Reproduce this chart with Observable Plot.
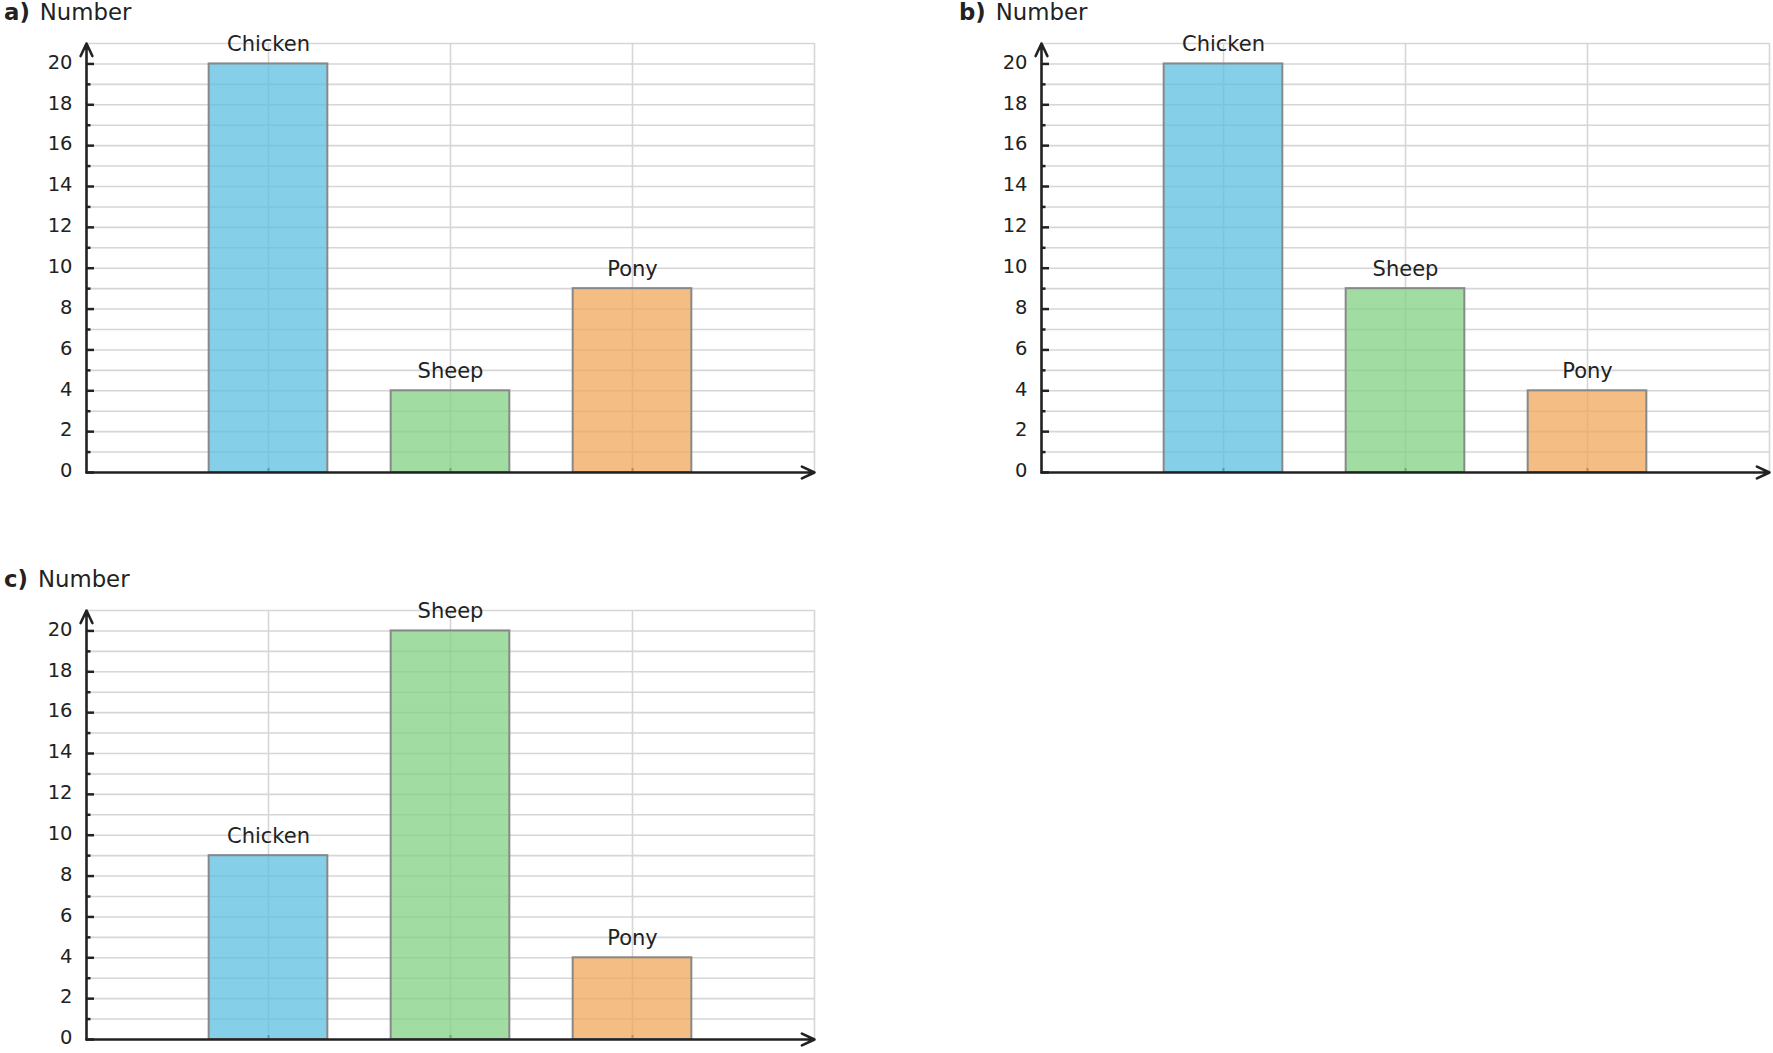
<!DOCTYPE html>
<html>
<head>
<meta charset="utf-8">
<script src="https://cdn.jsdelivr.net/npm/d3@7"></script>
<script src="https://cdn.jsdelivr.net/npm/@observablehq/plot@0.6"></script>
<style>
  html, body { margin: 0; padding: 0; background: #fff; overflow: hidden; }
  #root { position: relative; width: 1773px; height: 1053px; font-family: "DejaVu Sans", sans-serif; color: #222; }
  .panel { position: absolute; }
  .title { position: absolute; left: 4px; top: 1px; font-size: 22.8px; line-height: 22px; white-space: nowrap; z-index: 2; }
  .title b { margin-right: 10px; }
  .panel svg { display: block; }
</style>
</head>
<body>
<div id="root"></div>
<script>
// ---- data ----
const categories = ["Chicken", "Sheep", "Pony"];
const valuesA = [20, 4, 9];
const valuesB = [20, 9, 4];
const valuesC = [9, 20, 4];
const panelLetters = ["a)", "b)", "c)"];
const yTitle = "Number";
const yTicksMajor = [0, 2, 4, 6, 8, 10, 12, 14, 16, 18, 20];
const yTicksMinor = [1, 3, 5, 7, 9, 11, 13, 15, 17, 19];
const yGrid = [1, 2, 3, 4, 5, 6, 7, 8, 9, 10, 11, 12, 13, 14, 15, 16, 17, 18, 19, 20, 21];
const yMax = 21;
const xMax = 4;
const barColors = ["#5CBFE0", "#82D084", "#EFA75A"];

// ---- layout (styles) ----
const W = 818, H = 482, ML = 86, MR = 4, MT = 43, MB = 10;
const plotW = W - ML - MR, plotH = H - MT - MB;
const halfBar = 0.326;
const panels = [
  {values: valuesA, left: 0, top: 0},
  {values: valuesB, left: 955, top: 0},
  {values: valuesC, left: 0, top: 567}
];

const root = document.getElementById("root");

panels.forEach((p, i) => {
  const data = categories.map((c, j) => ({cat: c, pos: j + 1, value: p.values[j], color: barColors[j]}));
  const div = document.createElement("div");
  div.className = "panel";
  div.style.left = p.left + "px";
  div.style.top = p.top + "px";
  const title = document.createElement("div");
  title.className = "title";
  title.innerHTML = `<b>${panelLetters[i]}</b>${yTitle}`;
  div.appendChild(title);

  const chart = Plot.plot({
    width: W,
    height: H,
    marginLeft: ML,
    marginRight: MR,
    marginTop: MT,
    marginBottom: MB,
    style: {fontFamily: "DejaVu Sans", background: "white", overflow: "visible", color: "#222"},
    x: {type: "linear", domain: [0, xMax], axis: null},
    y: {type: "linear", domain: [0, yMax]},
    marks: [
      // grid
      Plot.ruleY(yGrid, {y: d => d, x1: 0, x2: xMax, stroke: "#d6d6d6", strokeWidth: 1.6}),
      Plot.ruleX(data.map(d => d.pos).concat([xMax]), {x: d => d, y1: 0, y2: yMax, stroke: "#d6d6d6", strokeWidth: 1.6}),
      // x ticks
      Plot.tickX(data, {x: "pos", stroke: "#333", strokeWidth: 2, insetTop: plotH - 4}),
      // bars
      Plot.rectY(data, {
        x1: d => d.pos - halfBar,
        x2: d => d.pos + halfBar,
        y1: 0,
        y2: "value",
        fill: d => d.color,
        fillOpacity: 0.75,
        stroke: "#888",
        strokeWidth: 2
      }),
      // bar labels
      Plot.text(data, {x: "pos", y: "value", text: "cat", dy: -12.6, lineAnchor: "bottom", fontSize: 21, fill: "#222"}),
      // y axis labels
      Plot.axisY({ticks: yTicksMajor, tickSize: 0, tickPadding: 14, fontSize: 19.5, label: null, fill: "#222", dy: -1.5}),
      // y ticks
      Plot.tickY(yTicksMajor, {y: d => d, stroke: "#222", strokeWidth: 2.5, insetRight: plotW - 8}),
      Plot.tickY(yTicksMinor, {y: d => d, stroke: "#222", strokeWidth: 2.5, insetRight: plotW - 4.5}),
      // axes with arrows
      Plot.arrow([{x1: 0, y1: 0, x2: 0, y2: yMax}, {x1: 0, y1: 0, x2: xMax, y2: 0}], {
        x1: "x1", y1: "y1", x2: "x2", y2: "y2",
        stroke: "#222", strokeWidth: 2.6, headLength: 8, headAngle: 50
      })
    ]
  });
  div.appendChild(chart);
  root.appendChild(div);
});
</script>
</body>
</html>
